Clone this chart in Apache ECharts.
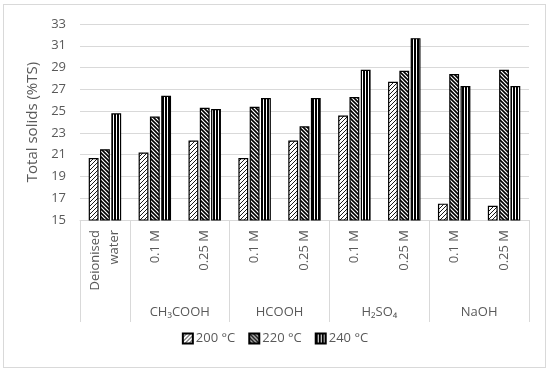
<!DOCTYPE html>
<html>
<head>
<meta charset="utf-8">
<script src="https://cdn.jsdelivr.net/npm/echarts@6/dist/echarts.min.js"></script>
<style>
html,body{margin:0;padding:0;background:#fff;}
#chart{position:absolute;left:0;top:0;width:550px;height:372px;}
#frame{position:absolute;left:3px;top:4px;width:541px;height:362px;border:1px solid #d9d9d9;pointer-events:none;}
</style>
</head>
<body>
<div id="chart"></div>
<div id="frame"></div>
<script>
const categories = ["Deionised\nwater", "0.1 M", "0.25 M", "0.1 M", "0.25 M", "0.1 M", "0.25 M", "0.1 M", "0.25 M"];
const groupNames = ["CH\u2083COOH", "HCOOH", "H\u2082SO\u2084", "NaOH"];
const groupCenters = [2, 4, 6, 8];
const groupBounds = [0, 1, 3, 5, 7, 9];
const seriesNames = ["200 °C", "220 °C", "240 °C"];
const t200 = [20.7, 21.2, 22.3, 20.7, 22.3, 24.6, 27.7, 16.5, 16.3];
const t220 = [21.5, 24.5, 25.3, 25.4, 23.6, 26.3, 28.7, 28.4, 28.8];
const t240 = [24.8, 26.4, 25.2, 26.2, 26.2, 28.8, 31.7, 27.3, 27.3];
const yTicks = {min: 15, max: 33, step: 2};

function tile(w, h, draw) {
  const c = document.createElement('canvas');
  c.width = w; c.height = h;
  const ctx = c.getContext('2d');
  ctx.fillStyle = '#fff';
  ctx.fillRect(0, 0, w, h);
  draw(ctx);
  return {image: c, repeat: 'repeat'};
}
const p200 = tile(4, 4, ctx => {
  ctx.strokeStyle = '#000'; ctx.lineWidth = 0.9;
  ctx.beginPath();
  ctx.moveTo(-1, 5); ctx.lineTo(5, -1);
  ctx.moveTo(-1, 1); ctx.lineTo(1, -1);
  ctx.moveTo(3, 5); ctx.lineTo(5, 3);
  ctx.stroke();
});
const p220 = tile(4, 4, ctx => {
  ctx.strokeStyle = '#000'; ctx.lineWidth = 1.6;
  ctx.beginPath();
  ctx.moveTo(-1, -1); ctx.lineTo(5, 5);
  ctx.moveTo(3, -1); ctx.lineTo(5, 1);
  ctx.moveTo(-1, 3); ctx.lineTo(1, 5);
  ctx.stroke();
});
const p240 = tile(3, 2, ctx => {
  ctx.fillStyle = '#000';
  ctx.fillRect(0, 0, 2, 2);
});
const patterns = [p200, p220, p240];
const values = [t200, t220, t240];

const font = 'Open Sans';
const gray = '#595959';
const chart = echarts.init(document.getElementById('chart'), null, {renderer: 'canvas'});
chart.setOption({
  animation: false,
  textStyle: {fontFamily: font},
  grid: {left: 80, right: 21, top: 24, bottom: 152, containLabel: false},
  legend: {
    bottom: 22, left: 'center',
    itemWidth: 10, itemHeight: 10, itemGap: 13,
    icon: 'rect',
    textStyle: {fontFamily: font, fontSize: 13, color: gray, padding: [0, 0, 0, -2]},
    data: seriesNames
  },
  xAxis: [{
    type: 'category',
    data: categories,
    axisLine: {show: true, lineStyle: {color: '#d9d9d9', width: 1}},
    axisTick: {show: false},
    axisLabel: {rotate: 90, color: gray, fontFamily: font, fontSize: 13, margin: 10, lineHeight: 19, interval: 0}
  }, {
    type: 'value',
    min: 0, max: 9,
    position: 'bottom',
    axisLine: {show: false},
    splitLine: {show: false},
    axisTick: {show: true, customValues: groupBounds, length: 102, lineStyle: {color: '#d9d9d9', width: 1}},
    axisLabel: {
      customValues: groupCenters,
      margin: 86, color: gray, fontFamily: font, fontSize: 13,
      formatter: v => groupNames[groupCenters.indexOf(v)] || ''
    }
  }],
  yAxis: {
    type: 'value',
    min: yTicks.min, max: yTicks.max, interval: yTicks.step,
    name: 'Total solids (%TS)',
    nameLocation: 'middle',
    nameGap: 37,
    nameTextStyle: {fontFamily: font, fontSize: 15, color: gray},
    axisLine: {show: false},
    axisTick: {show: false},
    axisLabel: {color: gray, fontFamily: font, fontSize: 13, margin: 14},
    splitLine: {lineStyle: {color: '#d9d9d9', width: 1}}
  },
  series: seriesNames.map((n, i) => ({
    name: n,
    type: 'bar',
    xAxisIndex: 0,
    data: values[i],
    barGap: '15%',
    barCategoryGap: '35%',
    itemStyle: {color: patterns[i], borderColor: '#000', borderWidth: 1.2}
  }))
});
</script>
</body>
</html>
